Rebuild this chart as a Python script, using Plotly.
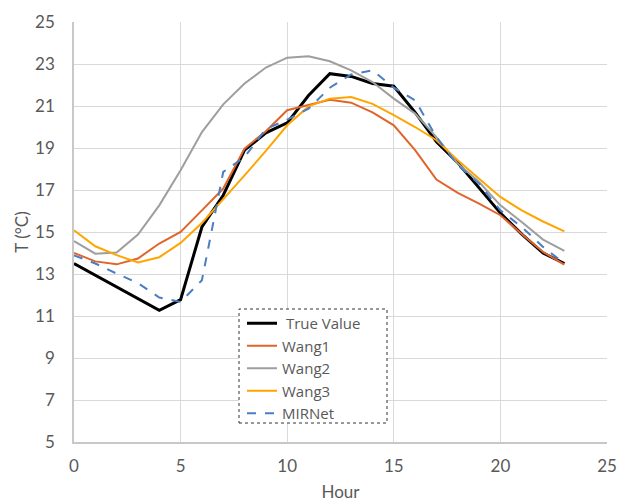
import plotly.graph_objects as go

hours = list(range(24))
true_value = [13.5, 12.95, 12.4, 11.85, 11.27, 11.78, 15.24, 16.75, 18.9, 19.72, 20.2, 21.5,
              22.54, 22.41, 22.07, 21.94, 20.7, 19.3, 18.3, 17.1, 15.9, 14.9, 14.0, 13.5]
wang1 = [14.0, 13.6, 13.46, 13.74, 14.45, 15.0, 16.03, 17.07, 18.97, 19.8, 20.8, 21.05,
         21.3, 21.16, 20.7, 20.08, 18.9, 17.5, 16.86, 16.35, 15.8, 14.9, 14.05, 13.45]
wang2 = [14.57, 13.97, 14.02, 14.88, 16.27, 17.94, 19.76, 21.08, 22.07, 22.83, 23.3, 23.37,
         23.13, 22.7, 22.14, 21.35, 20.64, 19.52, 18.26, 17.38, 16.27, 15.48, 14.64, 14.1]
wang3 = [15.08, 14.32, 13.9, 13.55, 13.8, 14.48, 15.43, 16.54, 17.7, 18.86, 20.08, 20.98,
         21.35, 21.43, 21.1, 20.56, 20.0, 19.37, 18.42, 17.54, 16.67, 16.03, 15.5, 15.03]
mirnet = [13.89, 13.5, 13.02, 12.57, 11.88, 11.67, 12.7, 17.86, 18.57, 19.9, 20.35, 20.87,
          21.87, 22.5, 22.7, 21.87, 21.27, 19.52, 18.18, 17.3, 16.03, 15.24, 14.29, 13.5]

x_ticks = [0, 5, 10, 15, 20, 25]
y_ticks = [5, 7, 9, 11, 13, 15, 17, 19, 21, 23, 25]

font_family = "Lato, 'Open Sans', sans-serif"
legend_family = "'Open Sans', Lato, sans-serif"
text_color = "#595959"
grid_color = "#D9D9D9"

fig = go.Figure()
fig.add_trace(go.Scatter(x=hours, y=true_value, mode="lines", name=" True Value",
                         line=dict(color="#000000", width=3)))
fig.add_trace(go.Scatter(x=hours, y=wang1, mode="lines", name="Wang1",
                         line=dict(color="#E0652B", width=2)))
fig.add_trace(go.Scatter(x=hours, y=wang2, mode="lines", name="Wang2",
                         line=dict(color="#9E9E9E", width=2)))
fig.add_trace(go.Scatter(x=hours, y=wang3, mode="lines", name="Wang3",
                         line=dict(color="#FFA500", width=2)))
fig.add_trace(go.Scatter(x=hours, y=mirnet, mode="lines", name="MIRNet",
                         line=dict(color="#4A7EC2", width=2, dash="dash")))

fig.update_layout(
    width=619, height=502,
    margin=dict(l=74, r=12, t=22, b=60),
    paper_bgcolor="white", plot_bgcolor="white",
    font=dict(family=font_family, size=17, color=text_color),
    showlegend=True,
    legend=dict(x=(242 - 74) / 533, y=(442 - 307) / 420, xanchor="left", yanchor="top",
                bgcolor="rgba(0,0,0,0)", borderwidth=0,
                font=dict(family=legend_family, size=15, color=text_color),
                tracegroupgap=0, itemwidth=30),
    xaxis=dict(range=[0, 25], tickvals=x_ticks, showgrid=True, gridcolor=grid_color,
               gridwidth=1, zeroline=False, showline=True, linecolor="#C8C8C8",
               linewidth=1.5, ticks="", tickfont=dict(size=17, color=text_color),
               ticklabelstandoff=8,
               title=dict(text="Hour", font=dict(size=17, color=text_color), standoff=22),
               automargin=False),
    yaxis=dict(range=[5, 25], tickvals=y_ticks, showgrid=True, gridcolor=grid_color,
               gridwidth=1, zeroline=False, showline=True, linecolor="#C8C8C8",
               linewidth=1.5, ticks="", ticklen=0, tickfont=dict(size=17, color=text_color),
               ticklabelstandoff=14,
               title=dict(text="T (°C)", font=dict(size=17, color=text_color), standoff=2),
               automargin=False),
    shapes=[dict(type="rect", xref="paper", yref="paper",
                 x0=(239 - 74) / 533, x1=(387 - 74) / 533,
                 y0=(442 - 423) / 420, y1=(442 - 309) / 420,
                 line=dict(color="#333333", width=1, dash="dot"),
                 fillcolor="white", layer="above")],
)

fig.write_html("out.html")
